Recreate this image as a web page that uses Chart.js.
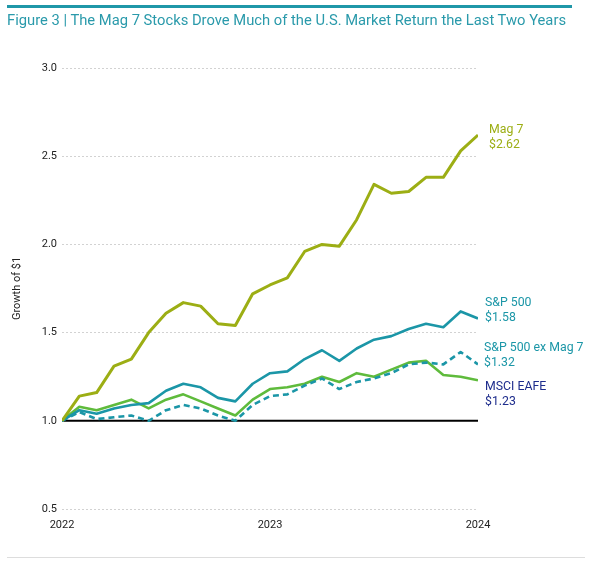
<!DOCTYPE html>
<html>
<head>
<meta charset="utf-8">
<script src="https://cdn.jsdelivr.net/npm/chart.js@4"></script>
<style>
  html, body { margin: 0; padding: 0; background: #fff; }
  #wrap { position: relative; width: 600px; height: 561px; overflow: hidden; }
  #rule { position: absolute; left: 7px; top: 5px; width: 565px; height: 3px; background: #1f97a8; }
  #title { position: absolute; left: 7px; top: 11px; font-family: Roboto, sans-serif; font-size: 14.75px; color: #2a9aab; white-space: nowrap; }
  #bottom { position: absolute; left: 7px; top: 557px; width: 578px; height: 1px; background: #ddd; }
  #c { position: absolute; left: 0; top: 0; }
</style>
</head>
<body>
<div id="wrap">
  <canvas id="c" width="600" height="561"></canvas>
  <div id="rule"></div>
  <div id="title">Figure 3 | The Mag 7 Stocks Drove Much of the U.S. Market Return the Last Two Years</div>
  <div id="bottom"></div>
</div>
<script>
// Monthly points, Jan 2022 .. Jan 2024
const months = ['2022-01','2022-02','2022-03','2022-04','2022-05','2022-06','2022-07','2022-08','2022-09','2022-10','2022-11','2022-12',
                '2023-01','2023-02','2023-03','2023-04','2023-05','2023-06','2023-07','2023-08','2023-09','2023-10','2023-11','2023-12','2024-01'];
const xTickLabels = ['2022', '2023', '2024'];
const yTicks = [0.5, 1.0, 1.5, 2.0, 2.5, 3.0];

const mag7    = [1.00, 1.14, 1.16, 1.31, 1.35, 1.50, 1.61, 1.67, 1.65, 1.55, 1.54, 1.72, 1.77, 1.81, 1.96, 2.00, 1.99, 2.14, 2.34, 2.29, 2.30, 2.38, 2.38, 2.53, 2.62];
const sp500   = [1.00, 1.06, 1.04, 1.07, 1.09, 1.10, 1.17, 1.21, 1.19, 1.13, 1.11, 1.21, 1.27, 1.28, 1.35, 1.40, 1.34, 1.41, 1.46, 1.48, 1.52, 1.55, 1.53, 1.62, 1.58];
const spExMag7= [1.00, 1.05, 1.01, 1.02, 1.03, 1.00, 1.06, 1.09, 1.07, 1.03, 1.00, 1.09, 1.14, 1.15, 1.20, 1.24, 1.18, 1.22, 1.24, 1.27, 1.32, 1.33, 1.32, 1.39, 1.32];
const eafe    = [1.00, 1.08, 1.06, 1.09, 1.12, 1.07, 1.12, 1.15, 1.11, 1.07, 1.03, 1.12, 1.18, 1.19, 1.21, 1.25, 1.22, 1.27, 1.25, 1.29, 1.33, 1.34, 1.26, 1.25, 1.23];

const seriesNames = ['Mag 7', 'S&P 500', 'S&P 500 ex Mag 7', 'MSCI EAFE'];
const endLabels = ['$2.62', '$1.58', '$1.32', '$1.23'];

const C_MAG = '#9cae14', C_SP = '#1b96a7', C_EAFE = '#5fbb3c', C_NAVY = '#1d2c8c';

function pts(arr) { return arr.map((v, i) => ({ x: i, y: v })); }

// label placement (pixel offsets relative to the series' last point)
const labelStyle = [
  { color: C_MAG,  dx: 11, dy: -5 },
  { color: C_SP,   dx: 7,  dy: -16 },
  { color: C_SP,   dx: 6,  dy: -16 },
  { color: C_NAVY, dx: 7,  dy: 7 }
];

const endLabelPlugin = {
  id: 'endLabels',
  afterDatasetsDraw(chart) {
    const { ctx } = chart;
    ctx.save();
    ctx.font = '12.3px Roboto, sans-serif';
    ctx.textBaseline = 'middle';
    ctx.textAlign = 'left';
    chart.data.datasets.forEach((ds, i) => {
      const meta = chart.getDatasetMeta(i);
      const last = meta.data[meta.data.length - 1];
      const st = labelStyle[i];
      ctx.fillStyle = st.color;
      ctx.fillText(seriesNames[i], last.x + st.dx, last.y + st.dy);
      ctx.fillText(endLabels[i], last.x + st.dx, last.y + st.dy + 15);
    });
    ctx.restore();
  }
};

const baselinePlugin = {
  id: 'baseline',
  beforeDatasetsDraw(chart) {
    const { ctx, chartArea, scales } = chart;
    const y = scales.y.getPixelForValue(1);
    ctx.save();
    ctx.strokeStyle = '#000';
    ctx.lineWidth = 2;
    ctx.beginPath();
    ctx.moveTo(chartArea.left, y);
    ctx.lineTo(chartArea.right, y);
    ctx.stroke();
    ctx.restore();
  }
};

new Chart(document.getElementById('c'), {
  type: 'line',
  data: {
    datasets: [
      { label: seriesNames[0], data: pts(mag7), borderColor: C_MAG, borderWidth: 3 },
      { label: seriesNames[1], data: pts(sp500), borderColor: C_SP, borderWidth: 2.6 },
      { label: seriesNames[2], data: pts(spExMag7), borderColor: C_SP, borderWidth: 2.6, borderDash: [6, 4] },
      { label: seriesNames[3], data: pts(eafe), borderColor: C_EAFE, borderWidth: 2.6 }
    ]
  },
  options: {
    responsive: false,
    animation: false,
    devicePixelRatio: 1,
    layout: { padding: { left: 0, top: 68, right: 122, bottom: 22 } },
    elements: { point: { radius: 0 }, line: { tension: 0, fill: false, borderJoinStyle: 'round' } },
    plugins: { legend: { display: false }, tooltip: { enabled: false }, title: { display: false } },
    scales: {
      x: {
        type: 'linear', min: 0, max: months.length - 1,
        afterBuildTicks(scale) { scale.ticks = [0, 12, 24].map(v => ({ value: v })); },
        afterFit(scale) { scale.height = 30; },
        grid: { display: false, drawTicks: false },
        border: { display: false },
        ticks: {
          padding: 10, color: '#222', font: { family: 'Roboto', size: 11 },
          maxRotation: 0,
          callback: (v) => xTickLabels[v / 12]
        }
      },
      y: {
        min: 0.5, max: 3.0,
        afterBuildTicks(scale) { scale.ticks = yTicks.map(v => ({ value: v })); },
        afterFit(scale) { scale.width = 62; },
        grid: {
          drawTicks: false,
          color: (c) => (c.tick && c.tick.value === 1) ? 'rgba(0,0,0,0)' : '#d2d2d2',
          lineWidth: 1
        },
        border: { display: false, dash: [2, 2] },
        ticks: {
          padding: 5, color: '#222', font: { family: 'Roboto', size: 11 },
          callback: (v) => v.toFixed(1)
        },
        title: {
          display: true, text: 'Growth of $1', color: '#222',
          font: { family: 'Roboto', size: 11 },
          padding: { top: 11, bottom: 4 }
        }
      }
    }
  },
  plugins: [baselinePlugin, endLabelPlugin]
});
</script>
</body>
</html>
